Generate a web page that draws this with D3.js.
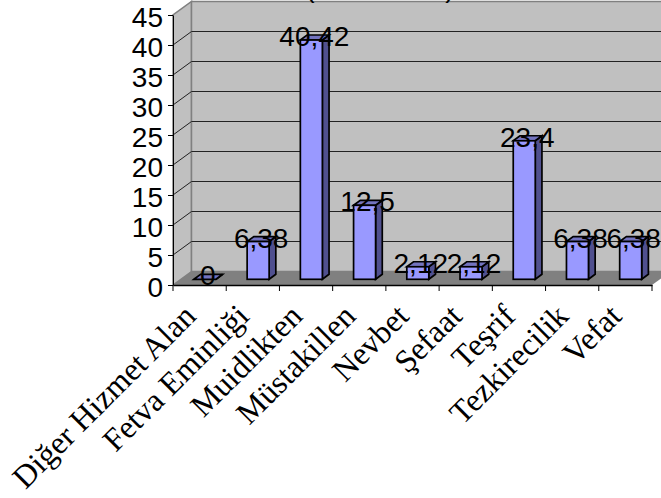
<!DOCTYPE html>
<html>
<head>
<meta charset="utf-8">
<script src="https://cdn.jsdelivr.net/npm/d3@7"></script>
<style>
  body { margin: 0; background: #fff; }
  svg { display: block; }
</style>
</head>
<body>
<div id="chart"></div>
<script>
const categories = ["Diğer Hizmet Alan", "Fetva Eminliği", "Muidlikten", "Müstakillen", "Nevbet", "Şefaat", "Teşrif", "Tezkirecilik", "Vefat"]
const values = [0, 6.38, 40.42, 12.5, 2.12, 2.12, 23.4, 6.38, 6.38]
const valueLabels = ["0", "6,38", "40,42", "12,5", "2,12", "2,12", "23,4", "6,38", "6,38"]
const yTicks = [0, 5, 10, 15, 20, 25, 30, 35, 40, 45]
// the title is cut off by the top of the image, only the brackets show
const titleBrackets = [["(", 310], [")", 450]]

const width = 661, height = 498
const depthX = 18.5, depthY = -13.5

const x = d3.scaleBand().domain(categories).range([173, 652])
const y = d3.scaleLinear().domain([0, 45]).range([285, 15])
// bars stand halfway into the floor, so they get their own scale
const yBar = d3.scaleLinear().domain([0, 45]).range([279.3, 12.9])

const svg = d3.select("#chart").append("svg")
    .attr("width", width)
    .attr("height", height)

const poly = pts => pts.map(p => p.join(",")).join(" ")

// left wall, back wall, floor
svg.append("polygon")
    .attr("points", poly([[173, y(0)], [173 + depthX, y(0) + depthY], [173 + depthX, y(45) + depthY], [173, y(45)]]))
    .attr("fill", "#c0c0c0").attr("stroke", "#808080").attr("stroke-width", 1.5)
svg.append("rect")
    .attr("x", 173 + depthX).attr("y", y(45) + depthY)
    .attr("width", 652 - 173).attr("height", y(0) - y(45))
    .attr("fill", "#c0c0c0").attr("stroke", "#808080").attr("stroke-width", 1.5)
svg.append("polygon")
    .attr("points", poly([[173, y(0)], [652, y(0)], [652 + depthX, y(0) + depthY], [173 + depthX, y(0) + depthY]]))
    .attr("fill", "#808080")

// gridlines on both walls
yTicks.slice(1, -1).forEach(t => {
  svg.append("polyline")
    .attr("points", poly([[173, y(t)], [173 + depthX, y(t) + depthY], [652 + depthX, y(t) + depthY]]))
    .attr("fill", "none").attr("stroke", "#222").attr("stroke-width", 1)
})

svg.selectAll(".bracket").data(titleBrackets).enter().append("text")
    .attr("class", "bracket")
    .attr("x", d => d[1])
    .attr("y", -3)
    .attr("text-anchor", "middle")
    .attr("font-family", "Liberation Sans, Arial, sans-serif")
    .attr("font-size", 28)
    .text(d => d[0])

// front axes
const yAxis = d3.axisLeft(y).tickValues(yTicks).tickSize(5).tickSizeOuter(0)
const yG = svg.append("g").attr("transform", "translate(173,0)").call(yAxis)
yG.selectAll("text")
    .attr("font-family", "Liberation Sans, Arial, sans-serif")
    .attr("font-size", 28)
    .attr("fill", "#000")
    .attr("x", -10)
    .attr("dy", "0.42em")
yG.select(".domain").attr("stroke", "#000")

const xAxis = d3.axisBottom(x).tickFormat("").tickSize(0)
const xG = svg.append("g").attr("transform", "translate(0,285)").call(xAxis)
xG.selectAll(".tick").remove()
xG.select(".domain").attr("stroke", "#000").attr("stroke-width", 1.5)
const edges = categories.map(c => x(c)).concat([652])
svg.selectAll(".xtick").data(edges).enter().append("line")
    .attr("class", "xtick")
    .attr("x1", d => d).attr("x2", d => d)
    .attr("y1", 285).attr("y2", 291)
    .attr("stroke", "#000")

// bars
const barW = 22, sideX = 6.7, sideY = -5
const base = yBar(0)
const bars = svg.selectAll(".bar").data(categories.map((c, i) => ({c, v: values[i], l: valueLabels[i]}))).enter()
    .append("g").attr("class", "bar")
bars.each(function(d) {
  const g = d3.select(this)
  const x0 = x(d.c) + (x.bandwidth() - barW) / 2 + 5.3
  const top = yBar(d.v)
  g.append("polygon")
    .attr("points", poly([[x0 + barW, base], [x0 + barW + sideX, base + sideY], [x0 + barW + sideX, top + sideY], [x0 + barW, top]]))
    .attr("fill", "#50508f").attr("stroke", "#000").attr("stroke-width", 1.7)
  g.append("polygon")
    .attr("points", poly([[x0, top], [x0 + sideX, top + sideY], [x0 + barW + sideX, top + sideY], [x0 + barW, top]]))
    .attr("fill", "#7373bf").attr("stroke", "#000").attr("stroke-width", 1.7)
  g.append("rect")
    .attr("x", x0).attr("y", top).attr("width", barW).attr("height", base - top)
    .attr("fill", "#9999ff").attr("stroke", "#000").attr("stroke-width", 1.7)
  g.append("text")
    .attr("x", x0 + barW / 2 + 3)
    .attr("y", top + 6)
    .attr("text-anchor", "middle")
    .attr("font-family", "Liberation Sans, Arial, sans-serif")
    .attr("font-size", 28)
    .attr("fill", "#000")
    .text(d.l)
})

// category labels
svg.selectAll(".cat").data(categories).enter().append("text")
    .attr("class", "cat")
    .attr("text-anchor", "end")
    .attr("font-family", "Liberation Serif, Times New Roman, serif")
    .attr("font-size", 32)
    .attr("fill", "#000")
    .attr("transform", d => "translate(" + (x(d) + x.bandwidth() / 2 - 2) + ",318) rotate(-45)")
    .text(d => d)
</script>
</body>
</html>
